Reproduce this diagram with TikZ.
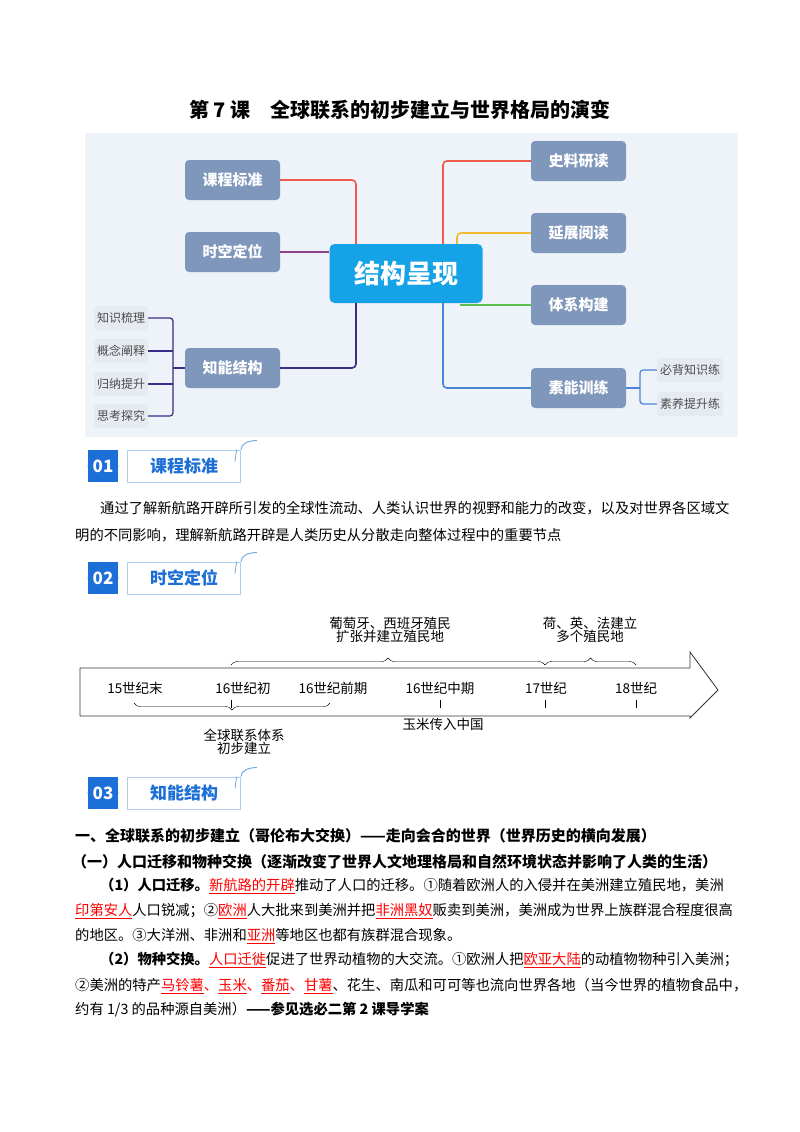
\documentclass[tikz,border=0pt]{standalone}
\usepackage{fontspec}
\setmainfont{Noto Sans CJK SC}
\usetikzlibrary{positioning,decorations.pathreplacing}
\definecolor{mapbg}{HTML}{EEF3FA}
\definecolor{hub}{HTML}{16A2E6}
\definecolor{slate}{HTML}{8097BC}
\definecolor{leaf}{HTML}{E6EBF2}
\definecolor{badge}{HTML}{1C6FD6}
\definecolor{lred}{HTML}{EE5A4C}
\definecolor{lpurple}{HTML}{8E3F8E}
\definecolor{lnavy}{HTML}{3B2C86}
\definecolor{lyellow}{HTML}{F2B92F}
\definecolor{lgreen}{HTML}{5CBF4A}
\definecolor{lblue}{HTML}{4A86D6}
\newcommand{\fs}[1]{\fontsize{#1}{#1}\selectfont}
\newcommand{\hl}[1]{\textcolor{red}{\underline{#1}}}
\tikzset{
  branch/.style={rectangle, rounded corners=4pt, fill=slate, text=white, font=\fs{15}\bfseries, minimum width=95pt, minimum height=40pt},
  leafnode/.style={rectangle, rounded corners=3pt, fill=leaf, text=black!70, font=\fs{12}, inner sep=3pt, minimum height=24pt},
  link/.style={line width=1.6pt, rounded corners=4pt},
  tick/.style={thin},
  body/.style={anchor=west, inner sep=0pt, font=\fs{14.3}},
  head/.style={anchor=west, inner sep=0pt, font=\fs{15}\bfseries},
  tl/.style={font=\fs{13.5}, inner sep=0pt, align=center},
  brace/.style={decorate, decoration={brace, amplitude=7pt}, thin}
}
\begin{document}
\begin{tikzpicture}[x=1pt,y=-1pt]
\useasboundingbox[fill=white] (0,0) rectangle (800,1132);
% Title
\node[font=\fs{20}\bfseries] (title) at (400,110) {第 7 课\quad 全球联系的初步建立与世界格局的演变};
% Mind map
\fill[mapbg] (85,133) rectangle (738,437);
\node[rectangle, rounded corners=5pt, fill=hub, text=white, font=\fs{26}\bfseries, minimum width=153pt, minimum height=59pt] (hub) at (406,273.5) {结构呈现};
\node[branch] (kcbz) at (232.5,180) {课程标准};
\node[branch] (sk) at (232.5,252) {时空定位};
\node[branch] (zn) at (232.5,368) {知能结构};
\node[branch] (slyd) at (578.5,161) {史料研读};
\node[branch] (yzyd) at (578.5,233) {延展阅读};
\node[branch] (txgj) at (578.5,305) {体系构建};
\node[branch] (snxl) at (578.5,388) {素能训练};
\node[leafnode] (l1) at (121,318) {知识梳理};
\node[leafnode] (l2) at (121,351) {概念阐释};
\node[leafnode] (l3) at (121,384) {归纳提升};
\node[leafnode] (l4) at (121,416) {思考探究};
\node[leafnode] (r1) at (690,370) {必背知识练};
\node[leafnode] (r2) at (690,404) {素养提升练};
% Draw the links
\draw[link, lred] (kcbz.east) -| (hub.north -| 356,0);
\draw[link, lpurple] (sk.east) -- (sk.east -| hub.west);
\draw[link, lnavy] (zn.east) -| (hub.south -| 356,0);
\draw[link, lred] (slyd.west) -| (hub.north -| 443,0);
\draw[link, lyellow] (yzyd.west) -| (hub.north -| 457,0);
\draw[link, lgreen] (txgj.west) -- (txgj.west -| 460,0);
\draw[link, lblue] (snxl.west) -| (hub.south -| 443,0);
\coordinate (lb) at (173,368);
\coordinate (rb) at (640,388);
\draw[line width=1.2pt, lnavy] (zn.west) -- (lb);
\draw[line width=1.2pt, lnavy, rounded corners=3pt] (l1.east) -| (lb) |- (l4.east);
\draw[line width=1.2pt, lnavy] (l2.east) -- (l2.east -| lb) (l3.east) -- (l3.east -| lb);
\draw[line width=1.2pt, lblue] (snxl.east) -- (rb);
\draw[line width=1.2pt, lblue, rounded corners=3pt] (r1.west) -| (rb) |- (r2.west);
% Section badges
\foreach \num/\txt/\y in {01/课程标准/466, 02/时空定位/578, 03/知能结构/793}{
  \fill[badge!15, rotate around={45:(103,\y)}] (91,\y-12) rectangle (115,\y+12);
  \node[fill=badge, text=white, font=\fs{17}\bfseries, minimum width=30pt, minimum height=32pt, inner sep=0pt] (b\num) at (103,\y) {\num};
  \node[draw=badge!35, line width=1pt, fill=white, text=badge, font=\fs{17}\bfseries, minimum width=113pt, minimum height=32pt, anchor=west] (t\num) at (127,\y) {\txt\hspace{18pt}};
  \draw[badge!60, line width=1pt] (t\num.north east) .. controls +(0,-6) and +(-8,0) .. +(16,-9);
  \draw[badge!60, line width=0.8pt] (t\num.north east) ++(-4,0) .. controls +(-2,6) and +(1,-3) .. +(-2,12);
}
% Course standard
\node[body] (p1) at (100,508) {通过了解新航路开辟所引发的全球性流动、人类认识世界的视野和能力的改变，以及对世界各区域文};
\node[body] (p2) at (75,535) {明的不同影响，理解新航路开辟是人类历史从分散走向整体过程中的重要节点};
% Timeline
\draw[line width=0.8pt, black!80] (80,668) -- (690,668) -- (690,652) -- (718,690) -- (690,718) -- (690,716) -- (80,716) -- cycle;
\node[tl] (c15) at (135,688) {15世纪末};
\node[tl] (c16a) at (243,688) {16世纪初};
\node[tl] (c16b) at (333,688) {16世纪前期};
\node[tl] (c16c) at (440,688) {16世纪中期};
\node[tl] (c17) at (546,688) {17世纪};
\node[tl] (c18) at (636,688) {18世纪};
\foreach \x in {231,440,545,636}{ \draw[tick] (\x,700) -- (\x,708); }
\coordinate (u1) at (231,665);
\coordinate (u2) at (545,665);
\coordinate (u3) at (636,665);
\coordinate (d1) at (134,703);
\coordinate (d2) at (330,703);
\draw[brace] (u1) -- (u2);
\draw[brace] (u2) -- (u3);
\draw[brace] (d2) -- (d1);
\node[tl] (e1) at (390,630) {葡萄牙、西班牙殖民\\扩张并建立殖民地};
\node[tl] (e2) at (590,630) {荷、英、法建立\\多个殖民地};
\node[tl] (e3) at (244,742) {全球联系体系\\初步建立};
\node[tl] (e4) at (443,724) {玉米传入中国};
% Knowledge structure
\node[head] (h1) at (75,836) {一、全球联系的初步建立（哥伦布大交换）——走向会合的世界（世界历史的横向发展）};
\node[head] (h2) at (72,862) {（一）人口迁移和物种交换（逐渐改变了世界人文地理格局和自然环境状态并影响了人类的生活）};
\node[body] (q1) at (100,886) {\textbf{（1）人口迁移。}\hl{新航路的开辟}推动了人口的迁移。①随着欧洲人的入侵并在美洲建立殖民地，美洲};
\node[body] (q2) at (75,911) {\hl{印第安人}人口锐减；②\hl{欧洲}人大批来到美洲并把\hl{非洲黑奴}贩卖到美洲，美洲成为世界上族群混合程度很高};
\node[body] (q3) at (75,936) {的地区。③大洋洲、非洲和\hl{亚洲}等地区也都有族群混合现象。};
\node[body] (q4) at (100,960) {\textbf{（2）物种交换。}\hl{人口迁徙}促进了世界动植物的大交流。①欧洲人把\hl{欧亚大陆}的动植物物种引入美洲；};
\node[body] (q5) at (75,986) {②美洲的特产\hl{马铃薯}\textcolor{red}{、}\hl{玉米}\textcolor{red}{、}\hl{番茄}\textcolor{red}{、}\hl{甘薯}、花生、南瓜和可可等也流向世界各地（当今世界的植物食品中，};
\node[body] (q6) at (75,1010) {约有 1/3 的品种源自美洲）\textbf{——参见选必二第 2 课导学案}};
\end{tikzpicture}
\end{document}
